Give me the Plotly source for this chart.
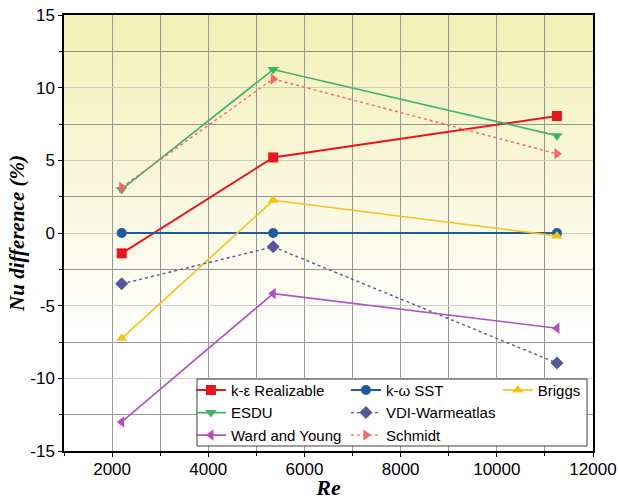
import plotly.graph_objects as go

re_values = [2200, 5350, 11250]

series_names = ["k-ε Realizable", "k-ω SST", "Briggs", "ESDU",
                "VDI-Warmeatlas", "Ward and Young", "Schmidt"]
k_eps_realizable = [-1.4, 5.2, 8.05]
k_omega_sst = [0.0, 0.0, 0.0]
briggs = [-7.25, 2.25, -0.2]
esdu = [3.0, 11.25, 6.7]
vdi_warmeatlas = [-3.5, -0.95, -8.95]
ward_and_young = [-13.0, -4.17, -6.55]
schmidt = [3.15, 10.6, 5.45]

x_ticks = [2000, 4000, 6000, 8000, 10000, 12000]
x_tick_labels = ["2000", "4000", "6000", "8000", "10000", "12000"]
y_ticks = [-15, -10, -5, 0, 5, 10, 15]
y_tick_labels = ["-15", "-10", "-5", "0", "5", "10", "15"]

series_values = [k_eps_realizable, k_omega_sst, briggs, esdu,
                 vdi_warmeatlas, ward_and_young, schmidt]
styles = [
    dict(color="#e5161e", symbol="square", dash="solid", width=2, legend="legend"),
    dict(color="#1f5c9e", symbol="circle", dash="solid", width=2, legend="legend2"),
    dict(color="#f5c21a", symbol="triangle-up", dash="solid", width=1.6, legend="legend3"),
    dict(color="#3fb36a", symbol="triangle-down", dash="solid", width=1.6, legend="legend"),
    dict(color="#55559a", symbol="diamond", dash="3px,3px", width=1.4, legend="legend2"),
    dict(color="#b24fc4", symbol="triangle-left", dash="solid", width=1.6, legend="legend"),
    dict(color="#f06a6a", symbol="triangle-right", dash="3px,3px", width=1.4, legend="legend2"),
]

fig = go.Figure()
for name, vals, st in zip(series_names, series_values, styles):
    fig.add_trace(go.Scatter(
        x=re_values, y=vals, name=name, mode="lines+markers",
        legend=st["legend"],
        line=dict(color=st["color"], dash=st["dash"], width=st["width"]),
        marker=dict(symbol=st["symbol"], size=10, color=st["color"]),
    ))

# background gradient (yellow at top fading to white)
shapes = []
n = 60
top = (243, 239, 181)
for i in range(n):
    y0 = i / n
    y1 = (i + 1) / n
    t = max(0.0, min(1.0, (y0 - 0.25) / 0.75))
    c = tuple(int(round(255 + (tc - 255) * t)) for tc in top)
    shapes.append(dict(type="rect", xref="x domain", yref="y domain",
                       x0=0, x1=1, y0=y0, y1=y1 + 0.002, layer="below",
                       line=dict(width=0), fillcolor="rgb(%d,%d,%d)" % c))
# legend box
shapes.append(dict(type="rect", xref="x domain", yref="y domain",
                   x0=0.2514, x1=0.9887, y0=0.0115, y1=0.165, layer="above",
                   line=dict(color="#404040", width=1), fillcolor="white"))

axis_font = dict(family="Liberation Sans, Arial", size=17, color="black")
title_font = dict(family="Liberation Serif, Times New Roman", color="black",
                  weight="bold", style="italic")
legend_common = dict(orientation="v", xanchor="left", yanchor="top",
                     xref="paper", yref="paper", y=0.177,
                     bgcolor="rgba(0,0,0,0)", borderwidth=0,
                     tracegroupgap=0,
                     font=dict(family="Liberation Sans, Arial", size=15,
                               color="black"))

fig.update_layout(
    width=618, height=500,
    margin=dict(l=64, r=25, t=15, b=49),
    paper_bgcolor="white", plot_bgcolor="white",
    shapes=shapes,
    showlegend=True,
    legend=dict(x=0.240, **legend_common),
    legend2=dict(x=0.533, **legend_common),
    legend3=dict(x=0.820, **legend_common),
    xaxis=dict(range=[1000, 12000], tickvals=x_ticks, ticktext=x_tick_labels,
               ticks="outside", automargin=False, ticklabelstandoff=-2,
               ticklen=4, tickwidth=1, tickcolor="black",
               showline=True, linecolor="black", linewidth=1.5, mirror=True,
               showgrid=True, gridcolor="#9a9a92", gridwidth=1,
               minor=dict(dtick=1000, tick0=0, showgrid=True,
                          gridcolor="#959590", ticks="outside", ticklen=3,
                          tickcolor="black"),
               zeroline=False, tickfont=axis_font,
               title=dict(text="Re", font=dict(size=22, **title_font),
                          standoff=2)),
    yaxis=dict(range=[-15, 15], tickvals=y_ticks, ticktext=y_tick_labels,
               ticks="outside", automargin=False,
               ticklen=4, tickwidth=1, tickcolor="black",
               showline=True, linecolor="black", linewidth=1.5, mirror=True,
               showgrid=True, gridcolor="#cdcdc2", gridwidth=1,
               minor=dict(dtick=2.5, tick0=0, showgrid=True,
                          gridcolor="#959590", ticks="outside", ticklen=3,
                          tickcolor="black"),
               zeroline=False, tickfont=axis_font,
               title=dict(text="Nu difference (%)",
                          font=dict(size=21, **title_font), standoff=0)),
)

fig.write_html("out.html")
